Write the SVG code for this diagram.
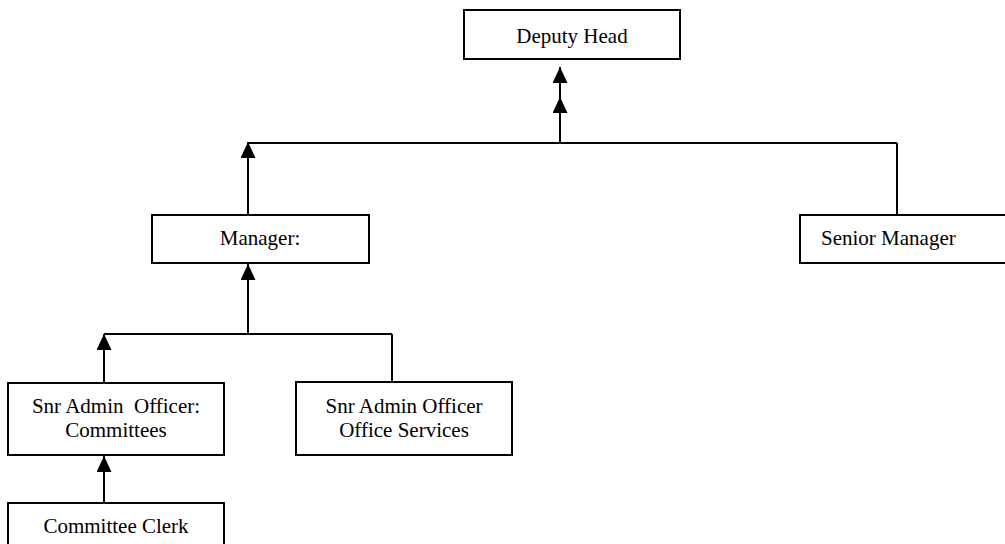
<svg xmlns="http://www.w3.org/2000/svg" width="1005" height="544" viewBox="0 0 1005 544">
<style>
.box{fill:#fff;stroke:#000;stroke-width:2}
.t{font-family:"Liberation Serif","Times New Roman","DejaVu Serif",serif;font-size:21px;fill:#000}
.c{text-anchor:middle}
.ln{stroke:#000;stroke-width:2;fill:none}
.arr{marker-end:url(#ah)}
</style>
<defs>
<marker id="ah" markerUnits="userSpaceOnUse" markerWidth="16" markerHeight="15" viewBox="0 0 16 15" refX="16" refY="7.5" orient="auto">
<path d="M0,0 L16,7.5 L0,15 z" fill="#000"/>
</marker>
</defs>
<g id="connectors">
<line class="ln arr" x1="560" y1="143" x2="560" y2="97"/>
<line class="ln arr" x1="560" y1="100" x2="560" y2="67"/>
<line class="ln" x1="248" y1="143" x2="897" y2="143"/>
<line class="ln" x1="897" y1="143" x2="897" y2="215"/>
<line class="ln arr" x1="248" y1="215" x2="248" y2="142"/>
<line class="ln arr" x1="248" y1="334" x2="248" y2="264"/>
<line class="ln" x1="104" y1="334" x2="392" y2="334"/>
<line class="ln arr" x1="104" y1="383" x2="104" y2="334"/>
<line class="ln" x1="392" y1="334" x2="392" y2="382"/>
<line class="ln arr" x1="104" y1="503" x2="104" y2="456"/>
</g>
<g id="deputy-head">
<rect class="box" x="464" y="10" width="216" height="49"/>
<text class="t c" x="572" y="43">Deputy Head</text>
</g>
<g id="manager">
<rect class="box" x="152" y="215" width="217" height="48"/>
<text class="t c" x="260" y="245">Manager:</text>
</g>
<g id="senior-manager">
<rect class="box" x="800" y="215" width="215" height="48"/>
<text class="t" x="821" y="245">Senior Manager</text>
</g>
<g id="snr-admin-committees">
<rect class="box" x="8" y="383" width="216" height="72"/>
<text class="t c" x="116" y="413" xml:space="preserve" style="white-space:pre">Snr Admin  Officer:</text>
<text class="t c" x="116" y="437">Committees</text>
</g>
<g id="snr-admin-office">
<rect class="box" x="296" y="382" width="216" height="73"/>
<text class="t c" x="404" y="413">Snr Admin Officer</text>
<text class="t c" x="404" y="437">Office Services</text>
</g>
<g id="committee-clerk">
<rect class="box" x="8" y="503" width="216" height="50"/>
<text class="t c" x="116" y="533">Committee Clerk</text>
</g>
</svg>
